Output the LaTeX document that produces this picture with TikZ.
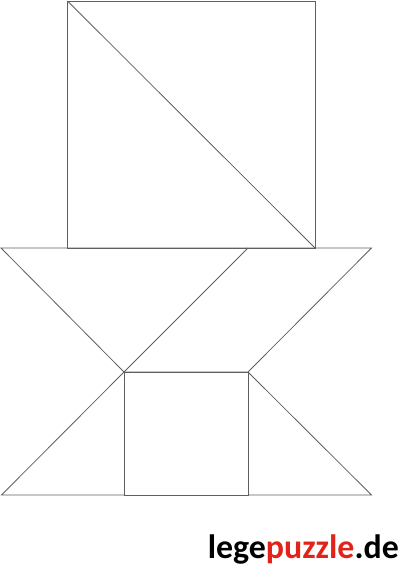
\documentclass[tikz,border=0pt]{standalone}
\usepackage{fontspec}
\newfontfamily\logofont{Carlito}
\usetikzlibrary{calc}
\definecolor{logored}{RGB}{226,35,26}
\definecolor{edgegray}{RGB}{95,95,95}
\tikzstyle{piece}=[draw=edgegray,line width=0.8pt,line join=miter]
\begin{document}
\begin{tikzpicture}[x=1pt,y=-1pt]
	\useasboundingbox (0,0) rectangle (400,573);
	% corner points of the figure
	\coordinate (sqtl) at (67.5,1);
	\coordinate (sqtr) at (315,1);
	\coordinate (sqbl) at (67.5,248);
	\coordinate (sqbr) at (315,248);
	\coordinate (bandl) at (1,248);
	\coordinate (bandm) at (248,248);
	\coordinate (bandr) at (371.5,248);
	\coordinate (midl) at (124,372);
	\coordinate (midr) at (248,372);
	\coordinate (footl) at (1.5,495);
	\coordinate (footml) at (124,495);
	\coordinate (footmr) at (248,495);
	\coordinate (footr) at (371.5,495);
	% top square with diagonal
	\draw[piece] (sqtl) -- (sqtr) -- (sqbr) -- (sqbl) -- cycle;
	\draw[piece] (sqtl) -- (sqbr);
	% band of three triangles
	\draw[piece] (bandl) -- (bandr) -- (midr) -- (midl) -- cycle;
	\draw[piece] (bandm) -- (midl);
	% lower square and side triangles
	\draw[piece] (midl) -- (midr) -- (footmr) -- (footml) -- cycle;
	\draw[piece] (midl) -- (footl) -- (footml);
	\draw[piece] (midr) -- (footr) -- (footmr);
	% logo
	\node[anchor=base east,inner sep=0pt] (logo) at (399,558)
		{\resizebox{191pt}{!}{\logofont\bfseries lege\textcolor{logored}{puzzle}.de}};
\end{tikzpicture}
\end{document}
